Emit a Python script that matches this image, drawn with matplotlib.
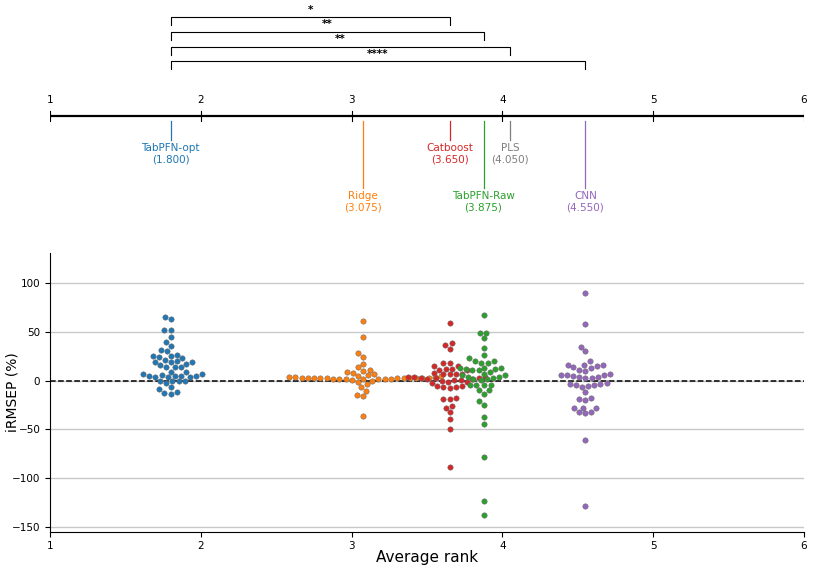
import numpy as np
import matplotlib
matplotlib.use("Agg")
import matplotlib.pyplot as plt

# ---------------- data ----------------
methods = ["TabPFN-opt", "Ridge", "Catboost", "TabPFN-Raw", "PLS", "CNN"]
avg_ranks = [1.800, 3.075, 3.650, 3.875, 4.050, 4.550]
colors = ["#1f77b4", "#ff7f0e", "#d62728", "#2ca02c", "#7f7f7f", "#9467bd"]
label_levels = [0, 1, 0, 1, 0, 1]

sig_pairs = [("TabPFN-opt", "Catboost"), ("TabPFN-opt", "TabPFN-Raw"),
             ("TabPFN-opt", "PLS"), ("TabPFN-opt", "CNN")]
sig_stars = ["*", "**", "**", "****"]

tabpfn_opt = [66.0, 64.0, 52.6, 52.0, 44.8, 40.0, 35.8, 31.7, 30.3, 26.9, 25.5,
              25.2, 24.5, 23.5, 21.1, 20.1, 19.2, 19.0, 19.0, 17.3, 15.9, 14.2,
              14.2, 13.9, 9.4, 9.4, 7.4, 6.7, 6.3, 5.3, 5.3, 5.3, 5.0, 4.0, 4.0,
              3.6, 0.2, -0.2, -0.2, -0.2, -2.2, -6.7, -8.7, -11.5, -12.5, -13.2]
ridge = [61.2, 44.8, 28.3, 24.9, 17.0, 13.9, 11.5, 10.0, 9.0, 8.0, 7.0, 5.5,
         5.3, 4.8, 4.3, 4.3, 3.5, 3.4, 3.3, 3.2, 3.1, 3.0, 2.9, 2.8, 2.7, 2.6,
         2.5, 2.4, 2.3, 2.2, 2.1, 2.0, 1.9, 1.8, 1.6, 1.2, 0.0, -1.0, -3.6,
         -6.0, -10.5, -14.6, -16.0, -36.5]
catboost = [59.5, 38.6, 37.2, 33.1, 18.7, 18.7, 15.2, 14.9, 12.5, 11.5, 12.0,
            10.8, 8.0, 7.0, 6.5, 7.5, 6.8, 4.4, 4.0, 3.6, 3.2, 2.5, 1.5, 2.0,
            3.0, 1.0, 0.5, -0.5, -1.5, -2.0, -1.0, -5.0, -6.0, -7.0, -6.5,
            -5.5, -17.5, -19.0, -18.5, -26.0, -27.5, -32.4, -39.3, -49.6, -88.3]
tabpfn_raw = [67.7, 49.2, 49.6, 44.0, 33.7, 26.2, 23.1, 20.7, 18.7, 18.7, 20.7,
              13.5, 12.5, 12.2, 10.8, 11.2, 12.9, 12.9, 8.7, 5.7, 7.1, 4.3, 5.7,
              1.5, 2.9, 4.3, 0.8, 1.5, -3.9, -3.9, -4.6, -3.9, -9.7, -9.7,
              -13.5, -20.7, -24.5, -36.9, -44.4, -78.0, -123.3, -137.4]
cnn = [90.7, 58.8, 34.5, 30.3, 20.1, 16.6, 15.6, 12.9, 16.0, 16.6, 13.9, 10.5,
       11.5, 6.4, 7.0, 5.7, 3.3, 2.6, 5.0, 3.6, 4.3, 6.4, -2.6, -3.6, -5.3,
       -6.4, -4.6, -4.4, -2.9, -11.5, -17.3, -20.0, -19.0, -27.6, -32.1, -28.0,
       -33.4, -28.3, -32.4, -61.2, -128.4]

swarm_methods = ["TabPFN-opt", "Ridge", "Catboost", "TabPFN-Raw", "CNN"]
swarm_values = [tabpfn_opt, ridge, catboost, tabpfn_raw, cnn]

x_ticks = [1, 2, 3, 4, 5, 6]
y_ticks = [-150, -100, -50, 0, 50, 100]

# ---------------- figure ----------------
W, H, DPI = 814, 569, 100
fig = plt.figure(figsize=(W / DPI, H / DPI), dpi=DPI)

left_px, right_px = 50, 804
ax_l = left_px / W
ax_w = (right_px - left_px) / W

# bottom swarm axes
bot_top, bot_bottom = 253.3, 531.7
ax = fig.add_axes([ax_l, 1 - bot_bottom / H, ax_w, (bot_bottom - bot_top) / H])
ax.set_xlim(1, 6)
ax.set_ylim(-155, 131)
ax.set_yticks(y_ticks)
ax.set_xticks(x_ticks)
ax.set_xticklabels([str(t) for t in x_ticks])
ax.tick_params(axis="both", labelsize=7.5, length=3.5, width=0.8)
for s in ["top", "right"]:
    ax.spines[s].set_visible(False)
for s in ["left", "bottom"]:
    ax.spines[s].set_linewidth(0.8)
ax.yaxis.grid(True, color="#c8c8c8", linewidth=1.0, zorder=0)
ax.set_axisbelow(True)
ax.axhline(0, color="black", linestyle="--", linewidth=1.1, zorder=1)
ax.set_xlabel("Average rank", fontsize=11)
ax.set_ylabel("iRMSEP (%)", fontsize=10)
ax.yaxis.set_label_coords(-0.041, 0.5)
ax.xaxis.set_label_coords(0.5, -0.065)

# beeswarm in pixel space
def beeswarm_offsets(xc, vals, d):
    pts = ax.transData.transform(np.column_stack([np.full(len(vals), xc), vals]))
    order = np.argsort(pts[:, 1])
    placed = []
    xs = np.zeros(len(vals))
    x0 = pts[0, 0]
    for idx in order:
        y = pts[idx, 1]
        neigh = [(px, py) for px, py in placed if abs(py - y) < d]
        cands = [x0]
        left_first = True
        for px, py in neigh:
            dx = np.sqrt(max(d ** 2 - (y - py) ** 2, 0)) * 1.05
            c = [px - dx, px + dx] if left_first else [px + dx, px - dx]
            cands.extend(c)
            left_first = not left_first
        cands = np.array(cands)
        cands = cands[np.argsort(np.abs(cands - x0), kind="stable")]
        chosen = cands[0]
        for c in cands:
            ok = all((c - px) ** 2 + (y - py) ** 2 >= (d * 0.999) ** 2 for px, py in neigh)
            if ok:
                chosen = c
                break
        placed.append((chosen, y))
        xs[idx] = chosen
    inv = ax.transData.inverted()
    return inv.transform(np.column_stack([xs, pts[:, 1]]))[:, 0]

d_px = 6.0
for name, vals in zip(swarm_methods, swarm_values):
    i = methods.index(name)
    xr = beeswarm_offsets(avg_ranks[i], np.array(vals, float), d_px)
    ax.scatter(xr, vals, s=15, color=colors[i], edgecolor="#666666",
               linewidth=0.35, zorder=3)

# top critical-difference panel
top_h = 222
axt = fig.add_axes([ax_l, 1 - top_h / H, ax_w, top_h / H])
axt.set_xlim(1, 6)
axt.set_ylim(top_h, 0)
axt.axis("off")

axis_y = 116
axt.plot([1, 6], [axis_y, axis_y], color="black", lw=1.6, solid_capstyle="butt")
for t in x_ticks:
    axt.plot([t, t], [axis_y - 5, axis_y + 5], color="black", lw=0.8)
    axt.text(t, 100, str(t), ha="center", va="center", fontsize=7.5)

line_ends = [140, 188]
name_y = [148, 196]
val_y = [159, 207]
for name, r, c, lv in zip(methods, avg_ranks, colors, label_levels):
    axt.plot([r, r], [axis_y + 5, line_ends[lv]], color=c, lw=0.9)
    axt.text(r, name_y[lv], name, ha="center", va="center", fontsize=7.5, color=c)
    axt.text(r, val_y[lv], f"({r:.3f})", ha="center", va="center", fontsize=7.5, color=c)

for k, ((a, b), st) in enumerate(zip(sig_pairs, sig_stars)):
    ra = avg_ranks[methods.index(a)]
    rb = avg_ranks[methods.index(b)]
    y = 17.3 + 14.6 * k
    axt.plot([ra, ra, rb, rb], [y + 8, y, y, y + 8], color="black", lw=0.8)
    axt.text((ra + rb) / 2, y - 7.5, st, ha="center", va="center",
             fontsize=7.5, fontweight="bold")

fig.savefig("out.png", dpi=DPI)
